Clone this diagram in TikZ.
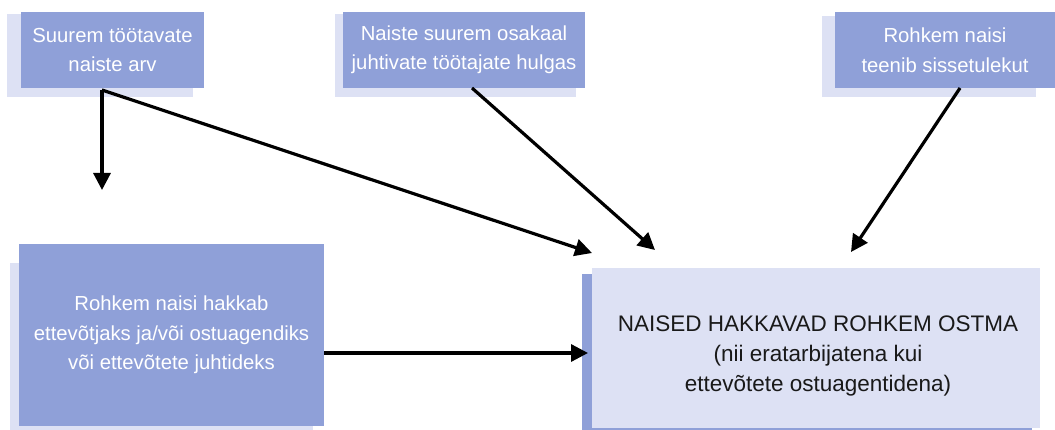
\documentclass[tikz,border=0pt]{standalone}
\usepackage{fontspec}
\setmainfont{Liberation Sans}
\usetikzlibrary{arrows.meta}
\definecolor{boxdark}{RGB}{143,160,216}
\definecolor{boxlight}{RGB}{221,225,244}
\definecolor{txtdark}{RGB}{25,25,25}
\tikzset{
  front/.style={fill=boxdark, draw=none, text=white, align=center, inner sep=0pt,
    font=\fontsize{20.3}{29.5}\selectfont},
  mainbox/.style={fill=boxlight, draw=none, inner sep=0pt},
  maintext/.style={text=txtdark, align=center, inner sep=0pt,
    font=\fontsize{22.5}{30}\selectfont},
  shadowfill/.style={fill=boxlight},
  shadowdark/.style={fill=boxdark},
  conn/.style={line width=3.2pt, -{Triangle[length=17pt,width=17pt]}},
}
\begin{document}
\begin{tikzpicture}[x=1pt,y=-1pt]
\useasboundingbox (0,0) rectangle (1055,430);
% shadows
\fill[shadowfill] (7,14) rectangle (193,97);
\fill[shadowfill] (335,14) rectangle (576,97);
\fill[shadowfill] (822,16) rectangle (1036,97);
\fill[shadowfill] (10,263) rectangle (313,430);
\fill[shadowdark] (582,274) rectangle (1032,430);
% boxes
\node[front, minimum width=183pt, minimum height=76pt] (b1) at (112.5,50) {Suurem töötavate\\naiste arv};
\node[front, minimum width=242pt, minimum height=76pt] (b2) at (464,50) {Naiste suurem osakaal\\juhtivate töötajate hulgas};
\node[front, minimum width=220pt, minimum height=76pt] (b3) at (945,50) {Rohkem naisi\\teenib sissetulekut};
\node[front, minimum width=305pt, minimum height=182pt] (b4) at (171.5,335) {Rohkem naisi hakkab\\ettevõtjaks ja/või ostuagendiks\\või ettevõtete juhtideks};
\node[mainbox, minimum width=448pt, minimum height=160pt] (b5) at (816,348) {};
\node[maintext] (b5t) at (818,356) {NAISED HAKKAVAD ROHKEM OSTMA\\(nii eratarbijatena kui\\ettevõtete ostuagentidena)};
% connector coordinates
\coordinate (s1) at (102,90);
\coordinate (t1a) at (102,190);
\coordinate (t1b) at (592,253);
\coordinate (s2) at (472,88);
\coordinate (t2) at (655,250);
\coordinate (s3) at (960,88);
\coordinate (t3) at (851,252);
\coordinate (s4) at (324,353);
\coordinate (t4) at (588,353);
% connectors
\draw[conn] (s1) -- (t1a);
\draw[conn] (s1) -- (t1b);
\draw[conn] (s2) -- (t2);
\draw[conn] (s3) -- (t3);
\draw[conn] (s4) -- (t4);
\end{tikzpicture}
\end{document}
